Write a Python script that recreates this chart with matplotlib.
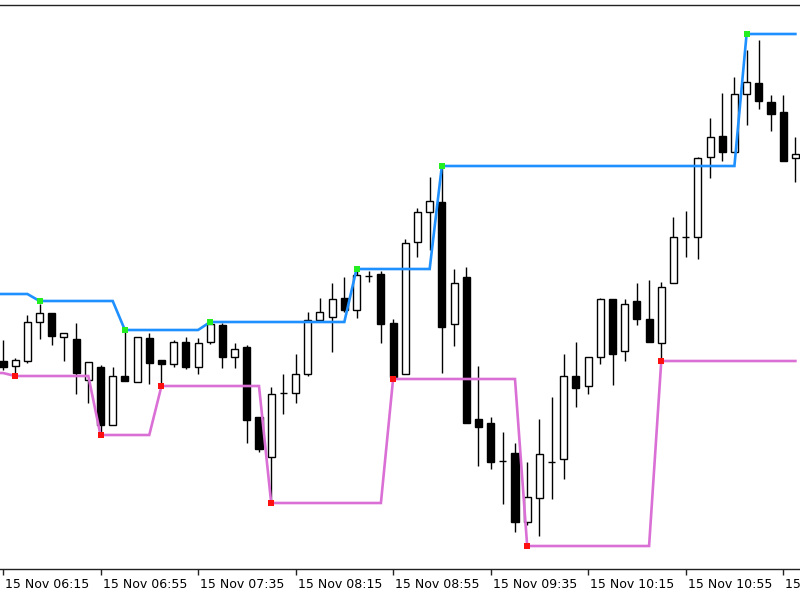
import matplotlib
matplotlib.use("Agg")
import matplotlib.pyplot as plt
import matplotlib.transforms as mtransforms
import numpy as np

# ---- data (price units, no axis shown in reference) ----
opens  = [239, 234, 239, 278, 287, 263, 261, 220, 233, 175, 224, 218, 262, 240, 236, 258, 233,
          258, 275, 243, 253, 183, 143, 207, 207, 226, 280, 283, 302, 290, 324, 326, 277, 226,
          358, 388, 398, 276, 323, 181, 177, 139, 147, 78, 102, 138, 141, 224, 214, 243, 301,
          249, 299, 281, 257, 317, 363, 363, 443, 464, 448, 506, 517, 498, 488, 442]
highs  = [260, 242, 285, 296, 287, 267, 277, 238, 235, 233, 268, 263, 267, 240, 260, 263, 262,
          280, 277, 257, 255, 183, 213, 226, 246, 288, 302, 317, 323, 330, 329, 329, 281, 361,
          392, 423, 432, 331, 333, 234, 183, 168, 157, 138, 181, 203, 246, 258, 243, 302, 301,
          301, 317, 320, 318, 383, 389, 443, 482, 507, 523, 550, 560, 505, 505, 463]
lows   = [230, 226, 237, 261, 255, 239, 206, 197, 168, 175, 219, 218, 216, 217, 233, 231, 226,
          256, 232, 232, 157, 148, 100, 186, 197, 224, 280, 248, 288, 282, 318, 257, 223, 226,
          343, 350, 227, 254, 177, 134, 131, 96, 68, 75, 64, 101, 121, 193, 206, 236, 215,
          239, 275, 258, 240, 317, 343, 341, 422, 439, 448, 475, 491, 469, 439, 418]
closes = [233, 240, 278, 287, 264, 267, 227, 238, 175, 224, 219, 263, 237, 236, 258, 233, 257,
          276, 243, 251, 180, 151, 206, 207, 226, 280, 288, 301, 290, 325, 324, 276, 223, 357,
          388, 399, 273, 317, 177, 173, 138, 139, 78, 103, 146, 138, 224, 212, 243, 301, 246,
          296, 281, 258, 313, 363, 363, 442, 463, 448, 506, 518, 499, 486, 439, 446]

# channel lines, one value per bar starting with the bar before the first visible candle
upper_line = [306, 306, 306, 306] + [299] * 7 + [270] * 7 + [278] * 12 + [331] * 7 + [434] * 25 + [566] * 5
lower_line = [227, 227] + [224] * 7 + [165] * 5 + [214] * 9 + [97] * 10 + [221] * 11 + [54] * 11 + [239] * 12

upper_marks_idx = [3, 10, 17, 29, 36, 61]
lower_marks_idx = [1, 8, 13, 22, 32, 43, 54]

tick_idx = [0, 8, 16, 24, 32, 40, 48, 56, 64]
tick_labels = ["15 Nov 06:15", "15 Nov 06:55", "15 Nov 07:35", "15 Nov 08:15",
               "15 Nov 08:55", "15 Nov 09:35", "15 Nov 10:15", "15 Nov 10:55",
               "15 Nov 11:35"]

# ---- figure ----
fig = plt.figure(figsize=(8, 6), dpi=100)
ax = fig.add_axes([0, 31 / 600, 1, 564 / 600])

n = len(opens)
x = np.arange(n)
o = np.array(opens); c = np.array(closes); h = np.array(highs); l = np.array(lows)

ax.vlines(x, l, h, color="black", linewidth=1.0, zorder=2)
bull = c >= o
bottoms = np.minimum(o, c)
heights = np.abs(c - o)
ax.bar(x, heights, bottom=bottoms, width=0.58,
       color=np.where(bull, "white", "black"), edgecolor="black",
       linewidth=1.0, zorder=3)

xl = np.arange(-1, n)
ax.plot(xl, upper_line, color="#1E90FF", linewidth=1.9, zorder=4, solid_joinstyle="miter")
ax.plot(xl, lower_line, color="#DA70D6", linewidth=1.9, zorder=4, solid_joinstyle="miter")

up_arr = np.array(upper_line); lo_arr = np.array(lower_line)
ax.plot(upper_marks_idx, up_arr[np.array(upper_marks_idx) + 1], linestyle="none",
        marker="s", markersize=5, color="#22EE22", markeredgewidth=0, zorder=5)
ax.plot(lower_marks_idx, lo_arr[np.array(lower_marks_idx) + 1], linestyle="none",
        marker="s", markersize=5, color="#FF1010", markeredgewidth=0, zorder=5)

ax.set_xlim(-0.246, 65.38)
ax.set_ylim(31, 595)

for s in ["left", "right"]:
    ax.spines[s].set_visible(False)
for s in ["top", "bottom"]:
    ax.spines[s].set_linewidth(1.0)
    ax.spines[s].set_color("#222222")

ax.set_yticks([])
ax.set_xticks(tick_idx)
ax.set_xticklabels(tick_labels, ha="left", fontsize=9, family="DejaVu Sans")
ax.tick_params(axis="x", direction="out", length=4.5, width=1.0, pad=2, color="#222222")
offset = mtransforms.ScaledTranslation(2 / 100, 0, fig.dpi_scale_trans)
for lab in ax.get_xticklabels():
    lab.set_transform(lab.get_transform() + offset)

fig.savefig("out.png", dpi=100)
